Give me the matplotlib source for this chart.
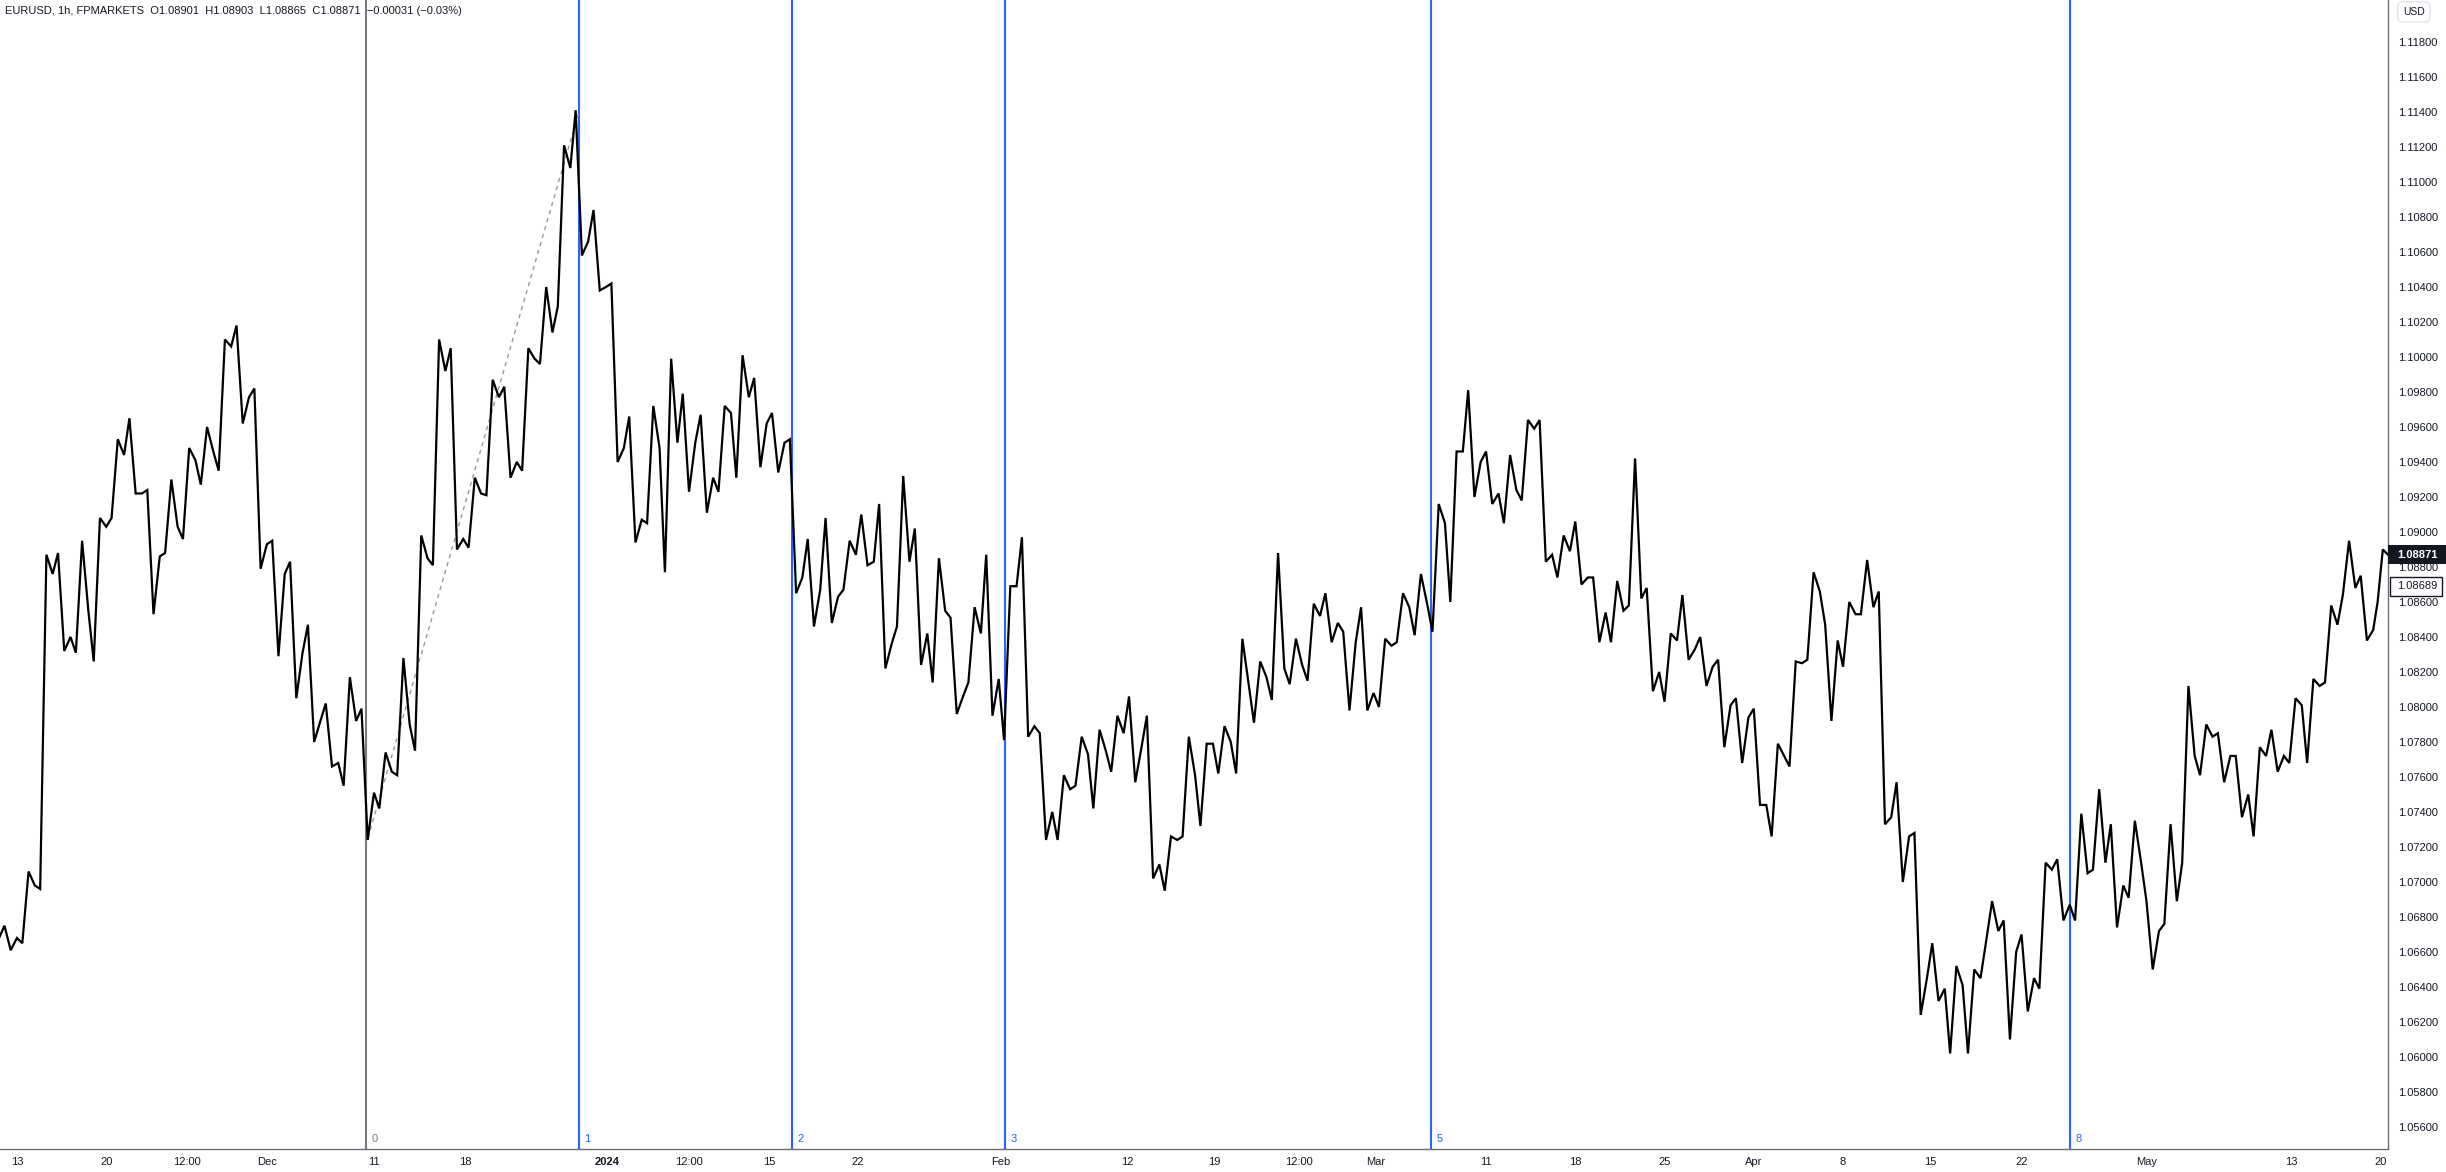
import numpy as np
import matplotlib.pyplot as plt
import matplotlib.transforms as mtransforms
from matplotlib.patches import Rectangle

plt.rcParams['font.family'] = ['Liberation Sans', 'DejaVu Sans']

# one value per trading-day slot of the chart, first slot is -1 (part of Nov 10)
first_slot = -1
high = [
    1.0675, 1.0706, 1.0887, 1.0888, 1.0895, 1.0908, 1.0953, 1.0965, 1.0924, 1.0930, 1.0948,
    1.0960, 1.1010, 1.1018, 1.0982, 1.0895, 1.0883, 1.0847, 1.0802, 1.0817, 1.0799,
    1.0774, 1.0828, 1.0898, 1.1010, 1.1005, 1.0931, 1.0987, 1.0983, 1.1005, 1.1040,
    1.1121, 1.1141, 1.1084, 1.1042, 1.0966, 1.0972, 1.0999, 1.0979, 1.0967, 1.0972,
    1.1001, 1.0988, 1.0968, 1.0953, 1.0896, 1.0908, 1.0895, 1.0910, 1.0916, 1.0932,
    1.0902, 1.0885, 1.0851, 1.0857, 1.0887, 1.0869, 1.0897, 1.0785, 1.0761, 1.0783,
    1.0787, 1.0795, 1.0806, 1.0795, 1.0726, 1.0783, 1.0779, 1.0789, 1.0839, 1.0826,
    1.0888, 1.0839, 1.0859, 1.0865, 1.0843, 1.0857, 1.0839, 1.0865, 1.0876, 1.0916,
    1.0946, 1.0981, 1.0946, 1.0944, 1.0964, 1.0964, 1.0898, 1.0906, 1.0874, 1.0872,
    1.0942, 1.0868, 1.0842, 1.0864, 1.0840, 1.0827, 1.0805, 1.0799, 1.0779, 1.0826,
    1.0877, 1.0847, 1.0860, 1.0884, 1.0866, 1.0757, 1.0728, 1.0665, 1.0652, 1.0650,
    1.0689, 1.0678, 1.0670, 1.0711, 1.0713, 1.0739, 1.0753, 1.0733, 1.0735, 1.0689,
    1.0733, 1.0812, 1.0790, 1.0785, 1.0772, 1.0777, 1.0787, 1.0805, 1.0816, 1.0858,
    1.0895, 1.0875, 1.0890]
low = [
    1.0661, 1.0665, 1.0696, 1.0832, 1.0831, 1.0826, 1.0908, 1.0922, 1.0853, 1.0888, 1.0896,
    1.0927, 1.0935, 1.0962, 1.0879, 1.0829, 1.0805, 1.0780, 1.0766, 1.0755, 1.0724,
    1.0742, 1.0761, 1.0775, 1.0881, 1.0890, 1.0891, 1.0921, 1.0931, 1.0935, 1.0996,
    1.1029, 1.1058, 1.1038, 1.0940, 1.0894, 1.0905, 1.0877, 1.0923, 1.0911, 1.0923,
    1.0931, 1.0937, 1.0934, 1.0865, 1.0846, 1.0848, 1.0867, 1.0881, 1.0822, 1.0846,
    1.0824, 1.0814, 1.0796, 1.0814, 1.0795, 1.0781, 1.0783, 1.0724, 1.0724, 1.0755,
    1.0742, 1.0763, 1.0757, 1.0702, 1.0695, 1.0726, 1.0732, 1.0762, 1.0762, 1.0791,
    1.0804, 1.0813, 1.0815, 1.0837, 1.0798, 1.0798, 1.0800, 1.0837, 1.0841, 1.0843,
    1.0860, 1.0920, 1.0916, 1.0905, 1.0918, 1.0883, 1.0874, 1.0870, 1.0837, 1.0837,
    1.0858, 1.0809, 1.0803, 1.0827, 1.0812, 1.0777, 1.0768, 1.0744, 1.0726, 1.0766,
    1.0827, 1.0792, 1.0823, 1.0853, 1.0733, 1.0700, 1.0624, 1.0632, 1.0602, 1.0602,
    1.0665, 1.0610, 1.0626, 1.0639, 1.0678, 1.0678, 1.0707, 1.0674, 1.0691, 1.0650,
    1.0676, 1.0711, 1.0761, 1.0757, 1.0737, 1.0726, 1.0763, 1.0768, 1.0768, 1.0814,
    1.0864, 1.0838, 1.0860]
close = [
    1.0668, 1.0698, 1.0876, 1.0840, 1.0855, 1.0903, 1.0944, 1.0922, 1.0886, 1.0903, 1.0941,
    1.0946, 1.1006, 1.0977, 1.0893, 1.0876, 1.0831, 1.0792, 1.0768, 1.0792, 1.0751,
    1.0763, 1.0790, 1.0885, 1.0992, 1.0896, 1.0922, 1.0977, 1.0940, 1.0999, 1.1014,
    1.1108, 1.1066, 1.1040, 1.0948, 1.0907, 1.0948, 1.0951, 1.0951, 1.0931, 1.0968,
    1.0977, 1.0962, 1.0951, 1.0874, 1.0867, 1.0863, 1.0887, 1.0883, 1.0836, 1.0883,
    1.0842, 1.0855, 1.0806, 1.0842, 1.0816, 1.0869, 1.0789, 1.0740, 1.0753, 1.0773,
    1.0775, 1.0785, 1.0777, 1.0710, 1.0724, 1.0761, 1.0779, 1.0780, 1.0813, 1.0817,
    1.0822, 1.0824, 1.0852, 1.0848, 1.0837, 1.0808, 1.0835, 1.0857, 1.0859, 1.0905,
    1.0946, 1.0940, 1.0922, 1.0924, 1.0959, 1.0887, 1.0889, 1.0874, 1.0854, 1.0855,
    1.0862, 1.0820, 1.0838, 1.0833, 1.0823, 1.0801, 1.0794, 1.0744, 1.0772, 1.0825,
    1.0866, 1.0838, 1.0853, 1.0857, 1.0737, 1.0726, 1.0645, 1.0639, 1.0641, 1.0645,
    1.0672, 1.0660, 1.0645, 1.0707, 1.0687, 1.0705, 1.0711, 1.0698, 1.0711, 1.0672,
    1.0689, 1.0772, 1.0783, 1.0772, 1.0750, 1.0772, 1.0772, 1.0801, 1.0812, 1.0847,
    1.0868, 1.0844, 1.0887]

last_price = 1.08871
marker_price = 1.08689

xtick_pos = [0, 5.0, 9.5, 14.0, 20.0, 25.1, 33.05, 37.65, 42.15, 47.1, 55.1, 62.2, 67.05,
             71.8, 76.1, 82.3, 87.3, 92.3, 97.3, 102.3, 107.2, 112.3, 119.3, 127.4, 132.4]
xtick_labels = ['13', '20', '12:00', 'Dec', '11', '18', '2024', '12:00', '15', '22', 'Feb', '12', '19',
                '12:00', 'Mar', '11', '18', '25', 'Apr', '8', '15', '22', 'May', '13', '20']

# fib time zones
fib_start = 19.55
fib_unit = 11.93
fib_levels = [0, 1, 2, 3, 5, 8]

# dashed trend line (low -> high)
trend_x = [19.66, 31.48]
trend_y = [1.0725, 1.1140]

x_min, x_max = -0.95, 132.83
y_min, y_max = 1.05474, 1.1204

W, H = 2446, 1172
fig = plt.figure(figsize=(W / 100, H / 100), dpi=100)
ax = fig.add_axes([0, 23 / H, 2388 / W, 1149 / H])

# price path: through each slot's extremes, ending at its close
prev = (high[0] + low[0]) / 2
px, py = [first_slot], [prev]
n = len(close)
for i in range(n):
    x0 = first_slot + i
    width = 1.0 if i < n - 1 else x_max - x0
    h, l, c = high[i], low[i], close[i]
    # visit the extremes in the order that travels least
    if abs(prev - h) + abs(l - c) <= abs(prev - l) + abs(h - c):
        a, b = h, l
    else:
        a, b = l, h
    px += [x0 + 0.3 * width, x0 + 0.65 * width, x0 + width]
    py += [a, b, c]
    prev = c
ax.plot(px, py, color='black', lw=1.6, solid_joinstyle='miter', zorder=3)

blend = mtransforms.blended_transform_factory(ax.transData, ax.transAxes)
for lvl in fib_levels:
    x = fib_start + lvl * fib_unit
    col = '#787b86' if lvl == 0 else '#2962ff'
    ax.axvline(x, color=col, lw=1.5, zorder=2)
    ax.annotate(str(lvl), xy=(x, 0), xycoords=blend, xytext=(4, 7), textcoords='offset points',
                ha='left', va='center', color=col, fontsize=8)

ax.plot(trend_x, trend_y, color='#9598a1', lw=1, ls=(0, (3, 3)), zorder=2)

ax.set_xlim(x_min, x_max)
ax.set_ylim(y_min, y_max)

ax.set_xticks(xtick_pos)
ax.set_xticklabels(xtick_labels)
for t in ax.get_xticklabels():
    if t.get_text() == '2024':
        t.set_fontweight('bold')
ax.tick_params(axis='x', length=0, pad=6, labelsize=8, labelcolor='#131722')

yt = np.arange(1.056, 1.1181, 0.002)
ax.yaxis.tick_right()
ax.set_yticks(yt)
ax.set_yticklabels(['{:.5f}'.format(v) for v in yt])
ax.tick_params(axis='y', length=0, pad=7, labelsize=8, labelcolor='#131722')

for s in ['top', 'left']:
    ax.spines[s].set_visible(False)
for s in ['right', 'bottom']:
    ax.spines[s].set_color('#6a6d78')
    ax.spines[s].set_linewidth(1)

# price axis labels
px_per_unit = 1149 / (y_max - y_min)
yblend = mtransforms.blended_transform_factory(ax.transAxes, ax.transData)
hh = 9.5 / px_per_unit
ax.add_patch(Rectangle((1.0, last_price - hh), 58 / 2388, 2 * hh, transform=yblend,
                       fc='#131722', ec='none', clip_on=False, zorder=5))
ax.text(1.0 + 9 / 2388, last_price, '{:.5f}'.format(last_price), transform=yblend,
        color='white', fontsize=8, fontweight='bold', ha='left', va='center', zorder=6)
ax.add_patch(Rectangle((1.0 + 2 / 2388, marker_price - hh), 52 / 2388, 2 * hh, transform=yblend,
                       fc='white', ec='#131722', lw=1, clip_on=False, zorder=5))
ax.text(1.0 + 9 / 2388, marker_price, '{:.5f}'.format(marker_price), transform=yblend,
        color='#131722', fontsize=8, ha='left', va='center', zorder=6)

fig.text(2403 / W, 1 - 12 / H, 'USD', fontsize=7.5, color='#131722', ha='left', va='center',
         bbox=dict(boxstyle='round,pad=0.5', fc='white', ec='#e0e3eb', lw=1))

header = 'EURUSD, 1h, FPMARKETS  O1.08901  H1.08903  L1.08865  C1.08871  \u22120.00031 (\u22120.03%)'
fig.text(5 / W, 1 - 11 / H, header, fontsize=8, color='#131722', ha='left', va='center')

fig.savefig('out.png', dpi=100, facecolor='white')
